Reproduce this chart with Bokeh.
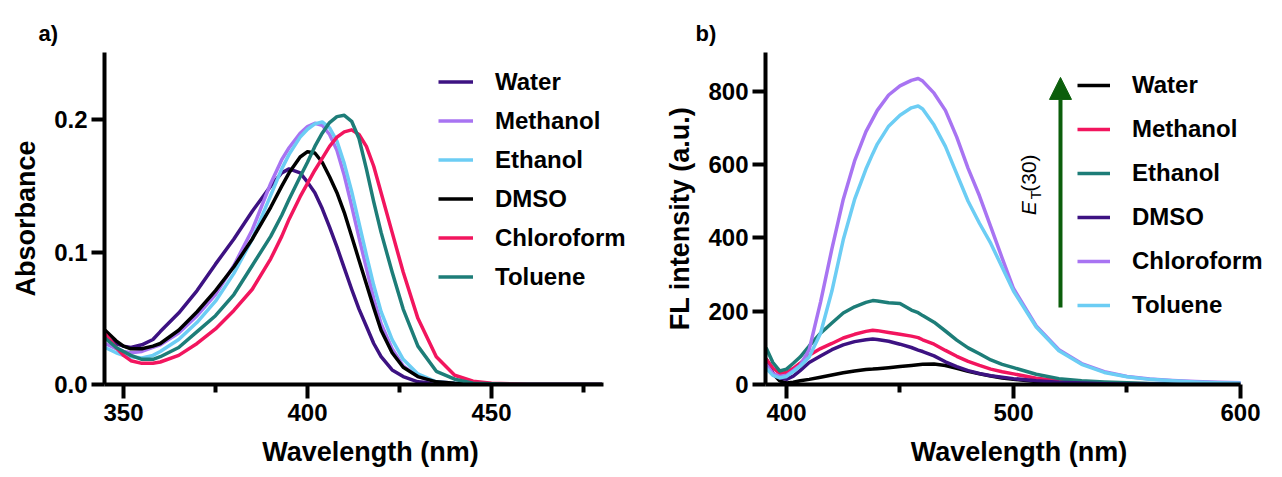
from bokeh.plotting import figure
from bokeh.layouts import row
from bokeh.models import (FixedTicker, NumeralTickFormatter, Legend, LegendItem,
                          Range1d, Arrow, NormalHead, Label)
from bokeh.embed import file_html
from bokeh.resources import INLINE

FONT = "Liberation Sans"
SOLVENTS = ["Water", "Methanol", "Ethanol", "DMSO", "Chloroform", "Toluene"]

# ---------------- a) UV-vis absorbance ----------------
abs_wavelength = [345, 348, 350, 352, 355, 358, 360, 365, 370, 375, 380, 385, 390,
                  393, 395, 398, 400, 402, 404, 406, 408, 410, 412, 414, 416, 418, 420,
                  423, 426, 430, 435, 440, 445, 450, 460, 470, 480]
abs_water = [0.036, 0.031, 0.029, 0.028, 0.030, 0.034, 0.040, 0.054, 0.071, 0.091, 0.110, 0.131, 0.150,
             0.160, 0.163, 0.160, 0.153, 0.145, 0.133, 0.119, 0.104, 0.088, 0.072, 0.057, 0.044, 0.031, 0.021,
             0.011, 0.006, 0.002, 0.001, 0.0005, 0.0, 0.0, 0.0, 0.0, 0.0]
abs_methanol = [0.031, 0.027, 0.025, 0.024, 0.025, 0.028, 0.030, 0.039, 0.052, 0.068, 0.090, 0.117, 0.152,
                0.170, 0.179, 0.190, 0.195, 0.1975, 0.196, 0.189, 0.177, 0.158, 0.135, 0.111, 0.088, 0.065, 0.046,
                0.027, 0.014, 0.006, 0.002, 0.001, 0.0005, 0.0, 0.0, 0.0, 0.0]
abs_ethanol = [0.028, 0.024, 0.022, 0.021, 0.020, 0.022, 0.025, 0.034, 0.047, 0.063, 0.084, 0.110, 0.143,
               0.163, 0.174, 0.187, 0.193, 0.197, 0.1985, 0.194, 0.184, 0.167, 0.146, 0.122, 0.098, 0.075, 0.055,
               0.034, 0.019, 0.008, 0.002, 0.001, 0.0005, 0.0, 0.0, 0.0, 0.0]
abs_dmso = [0.041, 0.033, 0.029, 0.027, 0.027, 0.029, 0.031, 0.041, 0.055, 0.071, 0.089, 0.110, 0.134,
            0.150, 0.160, 0.172, 0.176, 0.175, 0.168, 0.157, 0.145, 0.130, 0.112, 0.094, 0.076, 0.058, 0.041,
            0.024, 0.013, 0.006, 0.002, 0.001, 0.0005, 0.0, 0.0, 0.0, 0.0]
abs_chloroform = [0.038, 0.028, 0.022, 0.018, 0.016, 0.016, 0.017, 0.022, 0.031, 0.042, 0.056, 0.072, 0.095,
                  0.112, 0.125, 0.142, 0.152, 0.162, 0.171, 0.180, 0.187, 0.191, 0.1925, 0.189, 0.180, 0.165, 0.145,
                  0.115, 0.085, 0.050, 0.021, 0.007, 0.0025, 0.001, 0.0, 0.0, 0.0]
abs_toluene = [0.035, 0.028, 0.025, 0.022, 0.019, 0.019, 0.021, 0.028, 0.040, 0.052, 0.068, 0.090, 0.112,
               0.128, 0.140, 0.157, 0.168, 0.180, 0.190, 0.198, 0.2025, 0.2035, 0.199, 0.186, 0.163, 0.138, 0.115,
               0.085, 0.057, 0.029, 0.010, 0.004, 0.001, 0.0005, 0.0, 0.0, 0.0]

# ---------------- b) fluorescence emission ----------------
fl_wavelength = [391, 394, 397, 400, 403, 406, 410, 415, 420, 425, 430, 435, 438, 440, 445, 450, 455, 458,
                 460, 465, 470, 475, 480, 485, 490, 495, 500, 510, 520, 530, 540, 550, 560, 570, 580, 590, 600]
fl_water = [70, 30, 10, 4, 6, 10, 14, 20, 26, 32, 37, 41, 42, 43, 46, 49, 52, 54,
            55, 56, 52, 44, 36, 29, 23, 18, 14, 8, 5, 3, 2, 1, 1, 0, 0, 0, 0]
fl_methanol = [70, 45, 30, 33, 44, 58, 80, 98, 112, 127, 137, 145, 148, 147, 142, 137, 132, 128,
               122, 110, 93, 77, 63, 52, 42, 35, 29, 17, 10, 6, 4, 3, 2, 1, 1, 1, 0]
fl_ethanol = [100, 60, 37, 42, 58, 75, 105, 140, 168, 195, 212, 224, 229, 228, 223, 221, 203, 196,
              188, 170, 146, 121, 100, 84, 67, 55, 46, 28, 16, 10, 7, 5, 3, 2, 2, 1, 1]
fl_dmso = [55, 30, 18, 14, 23, 38, 60, 78, 95, 108, 117, 122, 124, 123, 118, 110, 101, 94,
           90, 78, 62, 49, 38, 30, 24, 20, 16, 10, 6, 4, 2, 1, 1, 0, 0, 0, 0]
fl_chloroform = [55, 30, 22, 25, 38, 52, 95, 225, 370, 505, 610, 690, 725, 748, 790, 815, 830, 835,
                 828, 795, 748, 675, 590, 515, 430, 345, 262, 160, 95, 57, 35, 22, 15, 11, 8, 6, 5]
fl_toluene = [45, 25, 18, 22, 35, 50, 75, 140, 255, 395, 505, 588, 630, 656, 705, 735, 755, 760,
              752, 708, 650, 575, 500, 440, 385, 320, 255, 157, 92, 55, 33, 21, 14, 10, 7, 5, 4]

abs_ticks = [350, 400, 450]
abs_minor = [375, 425, 475]
abs_yticks = [0.0, 0.1, 0.2]
fl_ticks = [400, 500, 600]
fl_minor = [450, 550]
fl_yticks = [0, 200, 400, 600, 800]

# axis extents (the frame runs a little further right so the legend fits)
ABS_X = (344.84, 480.4)
ABS_Y = (0, 0.251)
FL_X = (390.75, 600)
FL_Y = (0, 906)

PURPLE_D = "#3d1282"
PURPLE_L = "#a874f2"
SKY = "#6ccdf4"
BLACK = "#000000"
PINK = "#f2155e"
TEAL = "#1d7d78"
GREEN = "#0b5e0b"

abs_series = dict(zip(SOLVENTS, [abs_water, abs_methanol, abs_ethanol, abs_dmso, abs_chloroform, abs_toluene]))
abs_colors = dict(zip(SOLVENTS, [PURPLE_D, PURPLE_L, SKY, BLACK, PINK, TEAL]))
fl_series = dict(zip(SOLVENTS, [fl_water, fl_methanol, fl_ethanol, fl_dmso, fl_chloroform, fl_toluene]))
fl_colors = dict(zip(SOLVENTS, [BLACK, PINK, TEAL, PURPLE_D, PURPLE_L, SKY]))


def style_axes(p, xb, yb, panel_tag, tag_offset):
    p.grid.visible = False
    p.outline_line_color = None
    p.background_fill_color = "white"
    p.border_fill_color = "white"
    for ax in (p.xaxis[0], p.yaxis[0]):
        ax.axis_line_width = 4
        ax.axis_line_color = "black"
        ax.major_tick_line_width = 4
        ax.minor_tick_line_width = 4
        ax.major_tick_in = 0
        ax.minor_tick_in = 0
        ax.major_label_text_font = FONT
        ax.major_label_text_font_style = "bold"
        ax.major_label_text_font_size = "24px"
        ax.major_label_text_color = "black"
        ax.axis_label_text_font = FONT
        ax.axis_label_text_font_style = "bold"
        ax.axis_label_text_font_size = "27px"
        ax.axis_label_text_color = "black"
    p.xaxis[0].bounds = xb
    p.yaxis[0].bounds = yb
    p.xaxis[0].major_tick_out = 14
    p.xaxis[0].minor_tick_out = 8
    p.xaxis[0].major_label_standoff = 5
    p.xaxis[0].axis_label_standoff = 13
    p.yaxis[0].major_tick_out = 13
    p.yaxis[0].minor_tick_out = 0
    p.yaxis[0].major_label_standoff = 4
    p.yaxis[0].axis_label_standoff = 10
    p.title.text = panel_tag
    p.title.align = "left"
    p.title.offset = tag_offset
    p.title.text_font = FONT
    p.title.text_font_style = "bold"
    p.title.text_font_size = "22px"
    p.title.text_color = "black"
    p.title.standoff = 14


def add_legend(p, renderers, loc, pitch, glyph_w, standoff):
    items = [LegendItem(label=name, renderers=[r]) for name, r in zip(SOLVENTS, renderers)]
    leg = Legend(items=items, location=loc, orientation="vertical",
                 glyph_width=glyph_w, glyph_height=pitch, label_height=pitch,
                 label_standoff=standoff, spacing=0, padding=0, margin=0,
                 border_line_color=None, background_fill_alpha=0,
                 label_text_font=FONT, label_text_font_style="bold",
                 label_text_font_size="24px", label_text_color="black")
    p.add_layout(leg)


# ---- panel a ----
pa = figure(width=640, height=477, output_backend="svg", toolbar_location=None,
            x_range=Range1d(ABS_X[0], 350 + (636 - 123) / 3.68), y_range=Range1d(*ABS_Y),
            min_border_left=104, min_border_right=4, min_border_top=52, min_border_bottom=91,
            x_axis_label="Wavelength (nm)", y_axis_label="Absorbance")
style_axes(pa, ABS_X, ABS_Y, "a)", -66)
pa.xaxis[0].ticker = FixedTicker(ticks=abs_ticks, minor_ticks=abs_minor)
pa.yaxis[0].ticker = FixedTicker(ticks=abs_yticks, minor_ticks=[])
pa.yaxis[0].formatter = NumeralTickFormatter(format="0.0")

ra = []
for name in SOLVENTS:
    ra.append(pa.line(abs_wavelength, abs_series[name], line_color=abs_colors[name],
                      line_width=3.5, line_join="round"))
add_legend(pa, ra, (334, 88), 39, 35, 22)

# ---- panel b ----
pb = figure(width=642, height=477, output_backend="svg", toolbar_location=None,
            x_range=Range1d(FL_X[0], 400 + (1272 - 786) / 2.27), y_range=Range1d(*FL_Y),
            min_border_left=125, min_border_right=10, min_border_top=52, min_border_bottom=93,
            x_axis_label="Wavelength (nm)", y_axis_label="FL intensity (a.u.)")
style_axes(pb, FL_X, FL_Y, "b)", -70)
pb.xaxis[0].ticker = FixedTicker(ticks=fl_ticks, minor_ticks=fl_minor)
pb.yaxis[0].ticker = FixedTicker(ticks=fl_yticks, minor_ticks=[])

rb = []
for name in SOLVENTS:
    rb.append(pb.line(fl_wavelength, fl_series[name], line_color=fl_colors[name],
                      line_width=3.5, line_join="round"))
add_legend(pb, rb, (312, 57), 44, 33, 22)

# solvent-polarity arrow with its E_T(30) label
pb.add_layout(Arrow(x_start=520.7, y_start=210, x_end=520.7, y_end=838,
                    line_color=GREEN, line_width=4,
                    end=NormalHead(size=22, fill_color=GREEN, line_color=GREEN)))
pb.add_layout(Label(x=506.6, y=481, text="E", angle=1.5708, text_font=FONT,
                    text_font_style="italic", text_font_size="21px", text_color="black",
                    text_align="center", text_baseline="middle"))
pb.add_layout(Label(x=509.9, y=517, text="T", angle=1.5708, text_font=FONT,
                    text_font_size="14px", text_color="black",
                    text_align="center", text_baseline="middle"))
pb.add_layout(Label(x=506.6, y=577, text="(30)", angle=1.5708, text_font=FONT,
                    text_font_size="21px", text_color="black",
                    text_align="center", text_baseline="middle"))

layout = row(pa, pb)
open("out.html", "w").write(file_html(layout, INLINE))
